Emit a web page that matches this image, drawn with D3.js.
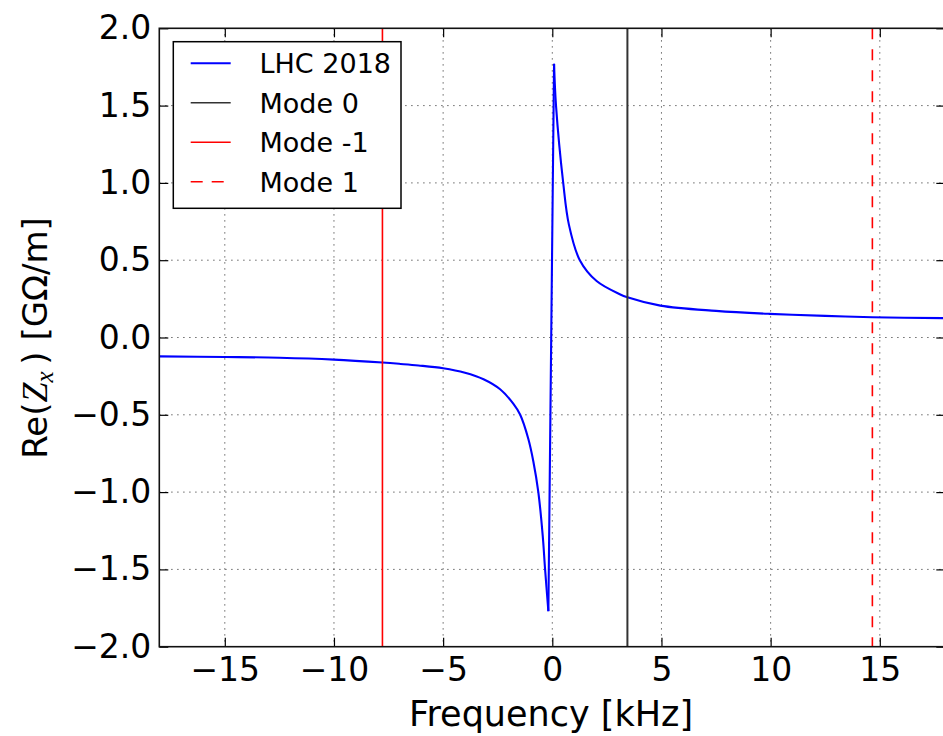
<!DOCTYPE html>
<html>
<head>
<meta charset="utf-8">
<script src="https://cdn.jsdelivr.net/npm/d3@7"></script>
<style>
  html, body { margin: 0; padding: 0; background: #fff; }
  svg { display: block; font-family: "DejaVu Sans", sans-serif; }
</style>
</head>
<body>
<svg id="chart" width="943" height="736"></svg>
<script>
// ---- data ----
const freqKHz = [-18, -15, -12.5, -10, -7.78, -6.95, -6.13, -5.0, -4.0, -3.15, -2.39, -1.78, -1.47, -1.10, -0.87, -0.64, -0.44, -0.33, -0.18,
                 -0.05, 0.08, 0.17, 0.50, 0.76, 1.26, 2.03, 3.09, 3.44, 4.95, 7.5, 9.94, 12.5, 14.66, 18];
const reZx   = [-0.122, -0.126, -0.131, -0.143, -0.162, -0.171, -0.181, -0.199, -0.228, -0.27, -0.335, -0.43, -0.50, -0.655, -0.80, -1.0, -1.28, -1.50, -1.77,
                 0.0, 1.77, 1.5, 1.0, 0.73, 0.5, 0.365, 0.28, 0.26, 0.206, 0.172, 0.153, 0.14, 0.131, 0.125];
const modeNames = ["Mode 0", "Mode -1", "Mode 1"];
const modeFreqs = [3.44, -7.78, 14.66];
const seriesName = "LHC 2018";
const xTicks = [-15, -10, -5, 0, 5, 10, 15];
const yTicks = [-2.0, -1.5, -1.0, -0.5, 0.0, 0.5, 1.0, 1.5, 2.0];

// ---- layout ----
const svg = d3.select("#chart");
const L = 159.3, T = 28.3, R = 945.3, B = 646.7;
const x = d3.scaleLinear().domain([-18, 18]).range([L, R]);
const y = d3.scaleLinear().domain([-2, 2]).range([B, T]);
const fmtY = d => d3.format(".1f")(d).replace("-", "\u2212");
const fmtX = d => String(d).replace("-", "\u2212");

const clipId = "plotclip";
svg.append("clipPath").attr("id", clipId).append("rect")
  .attr("x", L).attr("y", T).attr("width", R - L).attr("height", B - T);

// grid
const grid = svg.append("g").attr("stroke", "#444").attr("stroke-width", 1).attr("stroke-dasharray", "1.2,4.8");
grid.selectAll(".gx").data(xTicks).join("line")
  .attr("x1", d => x(d)).attr("x2", d => x(d)).attr("y1", T).attr("y2", B);
grid.selectAll(".gy").data(yTicks.filter(d => d > -2 && d < 2)).join("line")
  .attr("x1", L).attr("x2", R).attr("y1", d => y(d)).attr("y2", d => y(d));

const plot = svg.append("g").attr("clip-path", `url(#${clipId})`);

// series: smooth branches, straight sharp spike between the extrema
const pts = freqKHz.map((f, i) => [f, reZx[i]]);
const iMin = d3.minIndex(reZx), iMax = d3.maxIndex(reZx);
const smooth = d3.line().x(d => x(d[0])).y(d => y(d[1])).curve(d3.curveCatmullRom.alpha(0.5));
const straight = d3.line().x(d => x(d[0])).y(d => y(d[1]));
const segs = [
  { data: pts.slice(0, iMin + 1), gen: smooth },
  { data: pts.slice(iMin, iMax + 1), gen: straight },
  { data: pts.slice(iMax), gen: smooth }
];
plot.selectAll(".seg").data(segs).join("path")
  .attr("d", s => s.gen(s.data))
  .attr("fill", "none").attr("stroke", "#0000ff").attr("stroke-width", 2.1)
  .attr("stroke-linejoin", "miter");

// mode lines
const modeColor = ["#333333", "#ff0000", "#ff0000"];
const modeDash = [null, null, "11,10"];
plot.selectAll(".mode").data(modeFreqs).join("line")
  .attr("x1", d => x(d)).attr("x2", d => x(d)).attr("y1", T).attr("y2", B)
  .attr("stroke", (d, i) => modeColor[i])
  .attr("stroke-width", (d, i) => i === 0 ? 2 : 1.6)
  .attr("stroke-dasharray", (d, i) => modeDash[i]);

// axes (inside ticks, classic style)
const tl = 9;
const axB = svg.append("g").attr("transform", `translate(0,${B})`)
  .call(d3.axisBottom(x).tickValues(xTicks).tickSize(-tl).tickPadding(11).tickFormat(fmtX));
const axT = svg.append("g").attr("transform", `translate(0,${T})`)
  .call(d3.axisTop(x).tickValues(xTicks).tickSize(-tl).tickFormat(""));
const axL = svg.append("g").attr("transform", `translate(${L},0)`)
  .call(d3.axisLeft(y).tickValues(yTicks).tickSize(-tl).tickPadding(8).tickFormat(fmtY));
const axR = svg.append("g").attr("transform", `translate(${R},0)`)
  .call(d3.axisRight(y).tickValues(yTicks).tickSize(-tl).tickFormat(""));
[axB, axT, axL, axR].forEach(a => {
  a.select(".domain").remove();
  a.selectAll(".tick line").attr("stroke", "#000").attr("stroke-width", 1.2);
  a.selectAll("text").attr("font-family", "DejaVu Sans").attr("font-size", 33).attr("fill", "#000");
});

// frame
svg.append("rect").attr("x", L).attr("y", T).attr("width", R - L).attr("height", B - T)
  .attr("fill", "none").attr("stroke", "#111").attr("stroke-width", 1.6);

// axis labels
svg.append("text").attr("x", 551).attr("y", 726).attr("text-anchor", "middle")
  .attr("font-size", 35).attr("fill", "#000").text("Frequency [kHz]");
const yl = svg.append("text").attr("transform", "translate(47,338) rotate(-90)")
  .attr("text-anchor", "middle").attr("font-size", 34).attr("fill", "#000");
yl.append("tspan").text("Re(");
yl.append("tspan").attr("font-family", "Liberation Serif").attr("font-style", "italic").attr("font-size", 36).text("Z");
yl.append("tspan").attr("font-family", "Liberation Serif").attr("font-style", "italic").attr("font-size", 25).attr("dy", 6).text("x");
yl.append("tspan").attr("dy", -6).text("\u2009) [G\u03A9/m]");

// legend
const lg = svg.append("g");
lg.append("rect").attr("x", 173.3).attr("y", 41.7).attr("width", 227.7).attr("height", 166.6)
  .attr("fill", "#fff").attr("stroke", "#000").attr("stroke-width", 1.5);
const legItems = [seriesName].concat(modeNames);
const legColor = ["#0000ff"].concat(modeColor);
const legDash = [null].concat(modeDash);
const rowY = i => 63.3 + i * 39.5;
legItems.forEach((name, i) => {
  lg.append("line").attr("x1", 190.7).attr("x2", 230.7).attr("y1", rowY(i)).attr("y2", rowY(i))
    .attr("stroke", legColor[i]).attr("stroke-width", i === 0 ? 2 : 1.6)
    .attr("stroke-dasharray", legDash[i] ? "12,9" : null);
  lg.append("text").attr("x", 259.5).attr("y", rowY(i)).attr("dy", "0.36em")
    .attr("font-size", 27).attr("fill", "#000").text(name);
});
</script>
</body>
</html>
